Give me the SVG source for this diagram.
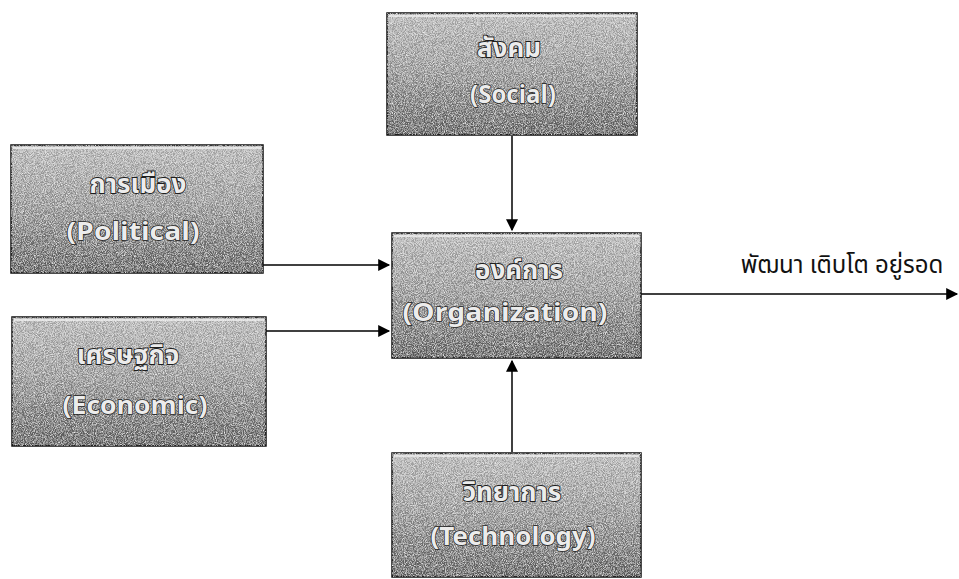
<svg xmlns="http://www.w3.org/2000/svg" width="959" height="579" viewBox="0 0 959 579">
<style>
.box{stroke:#111;stroke-width:1.5}
.hl{stroke:#f2f2f2;stroke-width:1.5}
.t{font-family:"Noto Sans Thai","Tahoma","DejaVu Sans","Noto Sans",sans-serif;font-size:26px;font-weight:bold;fill:#ececec;stroke:#1e1e1e;stroke-width:1.8;paint-order:stroke;text-anchor:middle}
.e{font-size:25px;stroke-width:1.4}
.lbl{font-family:"Noto Sans Thai","Tahoma","DejaVu Sans","Noto Sans",sans-serif;font-size:24px;fill:#111;text-anchor:middle}
.c{stroke:#000;stroke-width:1.5;fill:none}
</style>
<defs>
<linearGradient id="g" x1="0" y1="0" x2="0" y2="1">
<stop offset="0" stop-color="#c4c4c4"/>
<stop offset="0.45" stop-color="#a2a2a2"/>
<stop offset="1" stop-color="#646464"/>
</linearGradient>
<filter id="n" x="0" y="0" width="100%" height="100%">
<feTurbulence type="fractalNoise" baseFrequency="1.1" numOctaves="2" seed="3" result="t"/>
<feColorMatrix in="t" type="matrix" values="0 0 0 0 1  0 0 0 0 1  0 0 0 0 1  2.2 0 0 0 -0.9" result="w"/>
<feTurbulence type="fractalNoise" baseFrequency="1.0" numOctaves="2" seed="9" result="t2"/>
<feColorMatrix in="t2" type="matrix" values="0 0 0 0 0  0 0 0 0 0  0 0 0 0 0  2.2 0 0 0 -0.95" result="b"/>
<feMerge result="m"><feMergeNode in="w"/><feMergeNode in="b"/></feMerge>
<feComposite in="m" in2="SourceGraphic" operator="in"/>
</filter>
<marker id="a" viewBox="0 0 10 10" refX="9" refY="5" markerWidth="14" markerHeight="12" orient="auto" markerUnits="userSpaceOnUse">
<path d="M0,0 L10,5 L0,10 z" fill="#000"/>
</marker>
</defs>
<rect width="959" height="579" fill="#fff"/>
<g id="connectors">
<line class="c" x1="512" y1="136" x2="512" y2="230" marker-end="url(#a)"/>
<line class="c" x1="263" y1="265" x2="389" y2="265" marker-end="url(#a)"/>
<line class="c" x1="266" y1="331" x2="389" y2="331" marker-end="url(#a)"/>
<line class="c" x1="512" y1="452" x2="512" y2="361" marker-end="url(#a)"/>
<line class="c" x1="641" y1="294" x2="957" y2="294" marker-end="url(#a)"/>
<text class="lbl" x="842" y="273">พัฒนา เติบโต อยู่รอด</text>
</g>
<g id="social">
<rect class="box" x="387" y="13" width="250" height="122" fill="url(#g)"/>
<rect x="387" y="13" width="250" height="122" fill="#fff" filter="url(#n)"/>
<line class="hl" x1="389" y1="16" x2="635" y2="16"/>
<text class="t" x="509" y="57">สังคม</text>
<text class="t e" x="513" y="103" textLength="86" lengthAdjust="spacingAndGlyphs">(Social)</text>
</g>
<g id="political">
<rect class="box" x="11" y="145" width="252" height="128" fill="url(#g)"/>
<rect x="11" y="145" width="252" height="128" fill="#fff" filter="url(#n)"/>
<line class="hl" x1="13" y1="148" x2="261" y2="148"/>
<text class="t" x="138" y="193">การเมือง</text>
<text class="t e" x="133" y="240" textLength="133" lengthAdjust="spacingAndGlyphs">(Political)</text>
</g>
<g id="organization">
<rect class="box" x="392" y="233" width="249" height="125" fill="url(#g)"/>
<rect x="392" y="233" width="249" height="125" fill="#fff" filter="url(#n)"/>
<line class="hl" x1="394" y1="236" x2="639" y2="236"/>
<text class="t" x="519" y="279">องค์การ</text>
<text class="t e" x="505" y="321" textLength="205" lengthAdjust="spacingAndGlyphs">(Organization)</text>
</g>
<g id="economic">
<rect class="box" x="12" y="317" width="254" height="129" fill="url(#g)"/>
<rect x="12" y="317" width="254" height="129" fill="#fff" filter="url(#n)"/>
<line class="hl" x1="14" y1="320" x2="264" y2="320"/>
<text class="t" x="128" y="364">เศรษฐกิจ</text>
<text class="t e" x="135" y="414" textLength="145" lengthAdjust="spacingAndGlyphs">(Economic)</text>
</g>
<g id="technology">
<rect class="box" x="392" y="453" width="249" height="124" fill="url(#g)"/>
<rect x="392" y="453" width="249" height="124" fill="#fff" filter="url(#n)"/>
<line class="hl" x1="394" y1="456" x2="639" y2="456"/>
<text class="t" x="512" y="501">วิทยาการ</text>
<text class="t e" x="513" y="545" textLength="165" lengthAdjust="spacingAndGlyphs">(Technology)</text>
</g>
</svg>
